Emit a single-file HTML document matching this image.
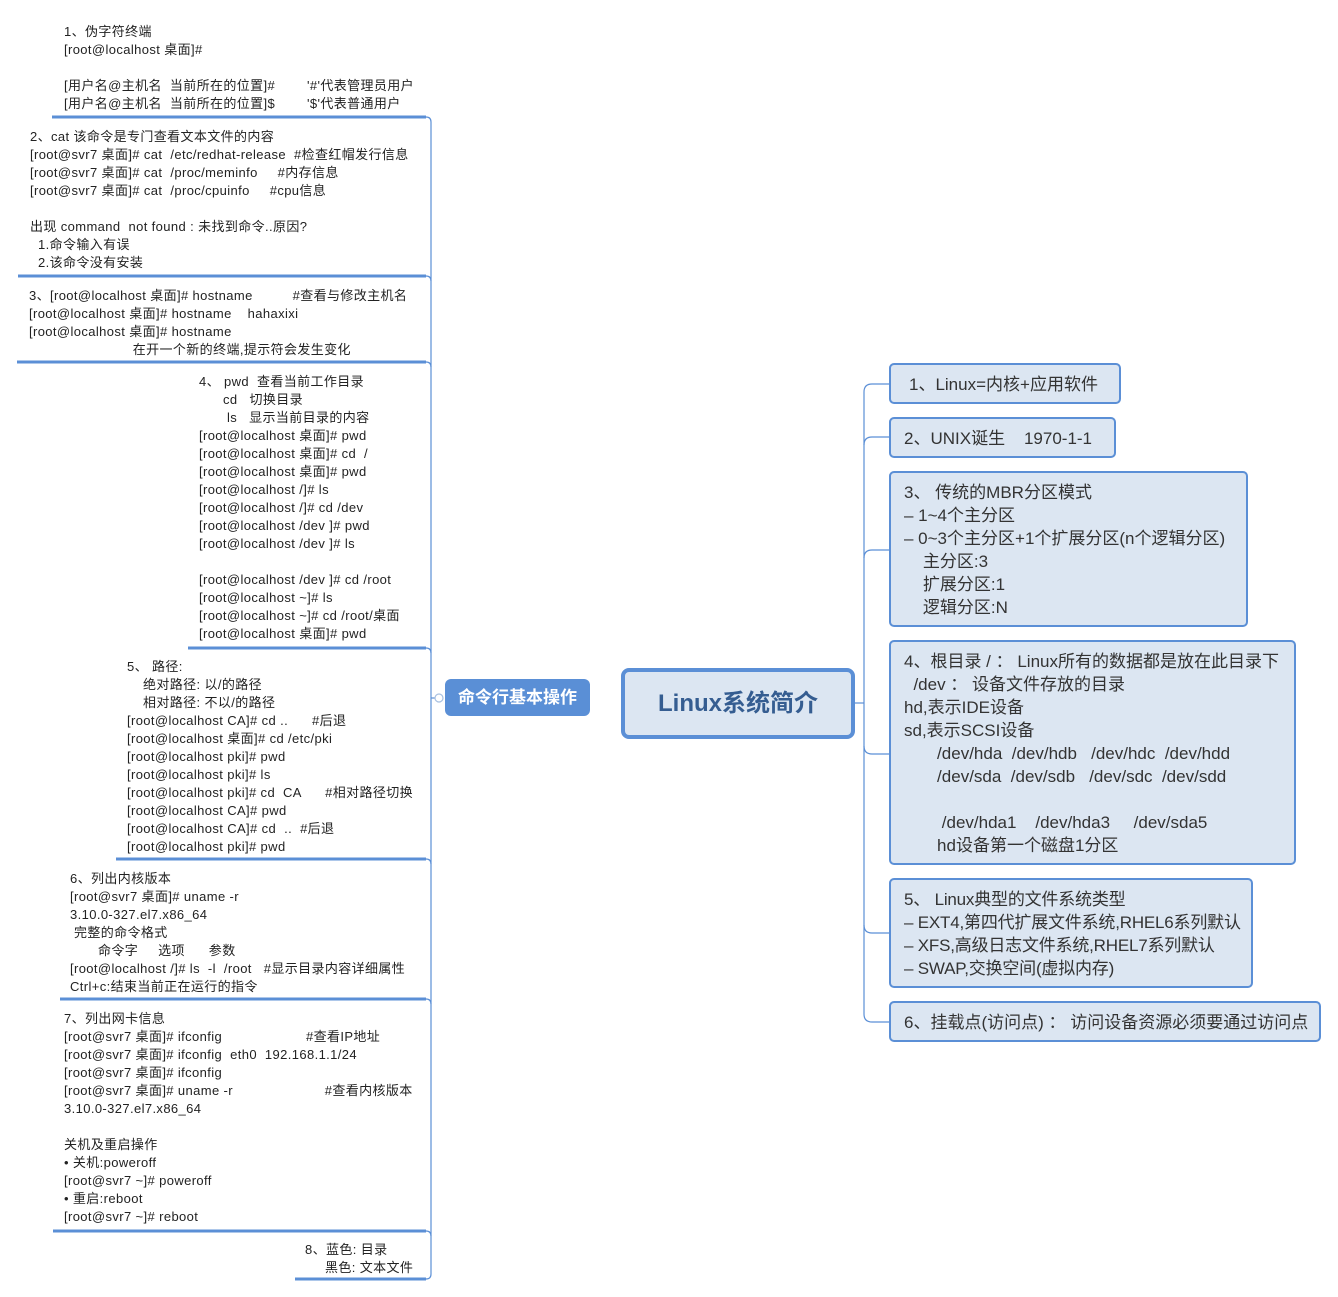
<!DOCTYPE html>
<html><head><meta charset="utf-8">
<style>
body{margin:0;width:1338px;height:1297px;background:#fff;position:relative;overflow:hidden;font-family:"Liberation Sans","Noto Sans CJK SC",sans-serif;}
.t{position:absolute;font-size:13px;line-height:18px;color:#222;white-space:pre;letter-spacing:0.38px;margin-top:1px}
.t div{height:18px}
.b{position:absolute;box-sizing:border-box;border:2px solid #5b8fd6;border-radius:5px;background:#dce6f2;font-size:17px;line-height:23px;color:#333;white-space:pre;padding:8px 0 0 13px;}
.b div{height:23px}
</style></head><body>
<svg width="1338" height="1297" style="position:absolute;left:0;top:0">
<g stroke="#5b8fd6" stroke-width="3" fill="none">
<line x1="52" y1="117" x2="426" y2="117"/>
<line x1="18" y1="276" x2="426" y2="276"/>
<line x1="17" y1="362" x2="426" y2="362"/>
<line x1="188" y1="648" x2="426" y2="648"/>
<line x1="116" y1="859" x2="426" y2="859"/>
<line x1="60" y1="999" x2="426" y2="999"/>
<line x1="53" y1="1231" x2="426" y2="1231"/>
<line x1="295" y1="1279" x2="426" y2="1279"/>
</g>
<g stroke="#5b8fd6" stroke-width="1.2" fill="none">
<path d="M426 117 Q431 117 431 122 L431 1274 Q431 1279 426 1279"/>
<path d="M426 276 Q431 276 431 281"/><path d="M426 362 Q431 362 431 367"/>
<path d="M426 648 Q431 648 431 653"/><path d="M426 859 Q431 859 431 864"/>
<path d="M426 999 Q431 999 431 1004"/><path d="M426 1231 Q431 1231 431 1236"/>
<line x1="431" y1="698" x2="436" y2="698"/>
<circle cx="439" cy="698" r="4" fill="#fff" stroke="#a8c0e0"/>
<line x1="855" y1="703" x2="864" y2="703"/>
<path d="M889 384 L872 384 Q864 384 864 392 L864 1014 Q864 1022 872 1022 L889 1022"/>
<path d="M889 437 L872 437 Q864 437 864 445"/>
<path d="M889 550 L872 550 Q864 550 864 558"/>
<path d="M889 754 L872 754 Q864 754 864 746"/>
<path d="M889 933 L872 933 Q864 933 864 925"/>
</g>
</svg>

<div class="t" style="left:64px;top:22px"><div>1、伪字符终端</div><div>[root@localhost 桌面]#</div><div></div><div>[用户名@主机名  当前所在的位置]#        '#'代表管理员用户</div><div>[用户名@主机名  当前所在的位置]$        '$'代表普通用户</div></div>

<div class="t" style="left:30px;top:127px"><div>2、cat 该命令是专门查看文本文件的内容</div><div>[root@svr7 桌面]# cat  /etc/redhat-release  #检查红帽发行信息</div><div>[root@svr7 桌面]# cat  /proc/meminfo     #内存信息</div><div>[root@svr7 桌面]# cat  /proc/cpuinfo     #cpu信息</div><div></div><div>出现 command  not found : 未找到命令..原因?</div><div>  1.命令输入有误</div><div>  2.该命令没有安装</div></div>

<div class="t" style="left:29px;top:286px"><div>3、[root@localhost 桌面]# hostname          #查看与修改主机名</div><div>[root@localhost 桌面]# hostname    hahaxixi</div><div>[root@localhost 桌面]# hostname</div><div>                          在开一个新的终端,提示符会发生变化</div></div>

<div class="t" style="left:199px;top:372px"><div>4、 pwd  查看当前工作目录</div><div style="padding-left:24px">cd   切换目录</div><div style="padding-left:28px">ls   显示当前目录的内容</div><div>[root@localhost 桌面]# pwd</div><div>[root@localhost 桌面]# cd  /</div><div>[root@localhost 桌面]# pwd</div><div>[root@localhost /]# ls</div><div>[root@localhost /]# cd /dev</div><div>[root@localhost /dev ]# pwd</div><div>[root@localhost /dev ]# ls</div><div></div><div>[root@localhost /dev ]# cd /root</div><div>[root@localhost ~]# ls</div><div>[root@localhost ~]# cd /root/桌面</div><div>[root@localhost 桌面]# pwd</div></div>

<div class="t" style="left:127px;top:657px"><div>5、 路径:</div><div style="padding-left:16px">绝对路径: 以/的路径</div><div style="padding-left:16px">相对路径: 不以/的路径</div><div>[root@localhost CA]# cd ..      #后退</div><div>[root@localhost 桌面]# cd /etc/pki</div><div>[root@localhost pki]# pwd</div><div>[root@localhost pki]# ls</div><div>[root@localhost pki]# cd  CA      #相对路径切换</div><div>[root@localhost CA]# pwd</div><div>[root@localhost CA]# cd  ..  #后退</div><div>[root@localhost pki]# pwd</div></div>

<div class="t" style="left:70px;top:869px"><div>6、列出内核版本</div><div>[root@svr7 桌面]# uname -r</div><div>3.10.0-327.el7.x86_64</div><div style="padding-left:4px">完整的命令格式</div><div style="padding-left:28px">命令字     选项      参数</div><div>[root@localhost /]# ls  -l  /root   #显示目录内容详细属性</div><div>Ctrl+c:结束当前正在运行的指令</div></div>

<div class="t" style="left:64px;top:1009px"><div>7、列出网卡信息</div><div>[root@svr7 桌面]# ifconfig                     #查看IP地址</div><div>[root@svr7 桌面]# ifconfig  eth0  192.168.1.1/24</div><div>[root@svr7 桌面]# ifconfig</div><div>[root@svr7 桌面]# uname -r                       #查看内核版本</div><div>3.10.0-327.el7.x86_64</div><div></div><div>关机及重启操作</div><div>• 关机:poweroff</div><div>[root@svr7 ~]# poweroff</div><div>• 重启:reboot</div><div>[root@svr7 ~]# reboot</div></div>

<div class="t" style="left:305px;top:1240px"><div>8、蓝色: 目录</div><div style="padding-left:20px">黑色: 文本文件</div></div>

<div style="position:absolute;left:445px;top:679px;width:145px;height:37px;background:#5a8fd6;border-radius:6px;color:#fff;font-weight:bold;font-size:17px;line-height:37px;text-align:center">命令行基本操作</div>

<div style="position:absolute;left:621px;top:668px;width:234px;height:71px;box-sizing:border-box;border:4px solid #5b8fd6;border-radius:8px;background:#dce6f2;color:#355d91;font-weight:bold;font-size:24px;line-height:63px;text-align:center">Linux系统简介</div>

<div class="b" style="left:889px;top:363px;width:232px;height:41px;padding-left:18px"><div>1、Linux=内核+应用软件</div></div>
<div class="b" style="left:889px;top:417px;width:227px;height:41px"><div>2、UNIX诞生    1970-1-1</div></div>
<div class="b" style="left:889px;top:471px;width:359px;height:156px"><div>3、 传统的MBR分区模式</div><div>– 1~4个主分区</div><div>– 0~3个主分区+1个扩展分区(n个逻辑分区)</div><div>    主分区:3</div><div>    扩展分区:1</div><div>    逻辑分区:N</div></div>
<div class="b" style="left:889px;top:640px;width:407px;height:225px"><div>4、根目录 / ： Linux所有的数据都是放在此目录下</div><div>  /dev ： 设备文件存放的目录</div><div>hd,表示IDE设备</div><div>sd,表示SCSI设备</div><div>       /dev/hda  /dev/hdb   /dev/hdc  /dev/hdd</div><div>       /dev/sda  /dev/sdb   /dev/sdc  /dev/sdd</div><div></div><div>        /dev/hda1    /dev/hda3     /dev/sda5</div><div>       hd设备第一个磁盘1分区</div></div>
<div class="b" style="left:889px;top:878px;width:364px;height:110px;letter-spacing:-0.2px"><div>5、 Linux典型的文件系统类型</div><div>– EXT4,第四代扩展文件系统,RHEL6系列默认</div><div>– XFS,高级日志文件系统,RHEL7系列默认</div><div>– SWAP,交换空间(虚拟内存)</div></div>
<div class="b" style="left:889px;top:1001px;width:432px;height:41px"><div>6、挂载点(访问点) ： 访问设备资源必须要通过访问点</div></div>
</body></html>
